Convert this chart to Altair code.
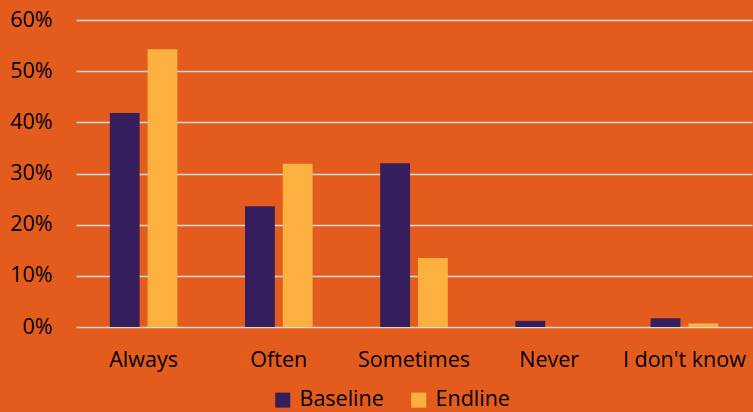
import altair as alt
import pandas as pd

categories = ["Always", "Often", "Sometimes", "Never", "I don't know"]
baseline = [0.418, 0.236, 0.320, 0.012, 0.017]
endline = [0.543, 0.319, 0.135, 0.0, 0.007]
series = ["Baseline", "Endline"]
colors = ["#341E5C", "#FBB040"]

rows = []
for cat, b, e in zip(categories, baseline, endline):
    rows.append({"category": cat, "series": "Baseline", "value": b})
    rows.append({"category": cat, "series": "Endline", "value": e})
df = pd.DataFrame(rows)

font = "Open Sans"
bg = "#E35C1D"
fs = 21.5

chart = (
    alt.Chart(df)
    .mark_bar()
    .encode(
        x=alt.X(
            "category:N",
            sort=categories,
            scale=alt.Scale(paddingInner=0.5, paddingOuter=0.25),
            axis=alt.Axis(
                title=None, labelAngle=0, ticks=False, domain=False,
                labelFontSize=fs, labelFont=font, labelColor="#000000",
                labelPadding=22, grid=False,
            ),
        ),
        xOffset=alt.XOffset("series:N", sort=series,
                            scale=alt.Scale(paddingInner=0.21, paddingOuter=0)),
        y=alt.Y(
            "value:Q",
            scale=alt.Scale(domain=[0, 0.6]),
            axis=alt.Axis(
                title=None, format=".0%", values=[0, 0.1, 0.2, 0.3, 0.4, 0.5, 0.6],
                ticks=False, domain=False, gridColor="#D9D9D9", gridWidth=1.6,
                labelFontSize=fs, labelFont=font, labelColor="#000000",
                labelPadding=24,
            ),
        ),
        color=alt.Color(
            "series:N",
            sort=series,
            scale=alt.Scale(domain=series, range=colors),
            legend=alt.Legend(
                title=None, orient="none", direction="horizontal",
                legendX=196, legendY=369,
                symbolType="square", symbolSize=225, symbolStrokeWidth=0,
                labelFontSize=fs, labelFont=font, labelColor="#000000",
                columnPadding=24, labelOffset=6,
            ),
        ),
    )
    .properties(
        width=676,
        height=307,
        background=bg,
        autosize=alt.AutoSizeParams(type="none"),
        padding={"left": 76, "top": 20, "right": 1, "bottom": 85},
    )
    .configure_view(stroke=None, fill=bg)
)

chart.save("out.html", embed_options={"renderer": "svg", "actions": False})
